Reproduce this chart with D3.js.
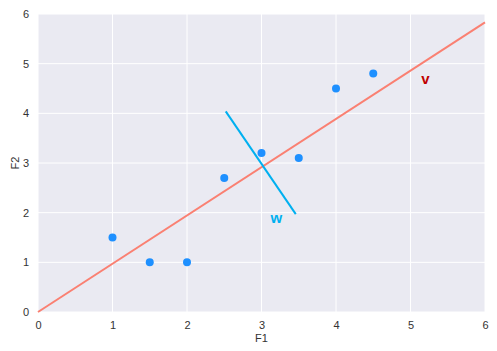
<!DOCTYPE html>
<html>
<head>
<meta charset="utf-8">
<script src="https://d3js.org/d3.v7.min.js"></script>
<style>
  body { margin: 0; background: white; }
  text { font-family: "Liberation Sans", Arial, sans-serif; }
</style>
</head>
<body>
<script>
// data points
const xs = [1, 1.5, 2, 2.5, 3, 3.5, 4, 4.5];
const ys = [1.5, 1, 1, 2.7, 3.2, 3.1, 4.5, 4.8];
// line v (through origin) and segment w
const vLine = [[0, 0], [6, 5.83]];
const wLine = [[2.52, 4.04], [3.46, 1.97]];
const vLabel = {x: 5.2, y: 4.6, t: "v"};
const wLabel = {x: 3.2, y: 1.8, t: "w"};
const ticks = [0, 1, 2, 3, 4, 5, 6];

const W = 497, H = 351;
const m = {l: 38, r: 12, t: 14, b: 39};

const svg = d3.select("body").append("svg").attr("width", W).attr("height", H);

const x = d3.scaleLinear().domain([0, 6]).range([m.l, W - m.r]);
const y = d3.scaleLinear().domain([0, 6]).range([H - m.b, m.t]);

svg.append("rect")
  .attr("x", x(0)).attr("y", y(6))
  .attr("width", x(6) - x(0)).attr("height", y(0) - y(6))
  .attr("fill", "#eaeaf2");

// grid
svg.selectAll(".gx").data(ticks).enter().append("line")
  .attr("x1", d => x(d)).attr("x2", d => x(d))
  .attr("y1", y(0)).attr("y2", y(6))
  .attr("stroke", "white").attr("stroke-width", 1);
svg.selectAll(".gy").data(ticks).enter().append("line")
  .attr("y1", d => y(d)).attr("y2", d => y(d))
  .attr("x1", x(0)).attr("x2", x(6))
  .attr("stroke", "white").attr("stroke-width", 1);

// tick labels
const xa = svg.append("g").attr("transform", `translate(0,${y(0)})`)
  .call(d3.axisBottom(x).tickValues(ticks).tickFormat(d3.format("d")).tickSize(0).tickPadding(9));
const ya = svg.append("g").attr("transform", `translate(${x(0)},0)`)
  .call(d3.axisLeft(y).tickValues(ticks).tickFormat(d3.format("d")).tickSize(0).tickPadding(9));
[xa, ya].forEach(a => {
  a.select(".domain").remove();
  a.selectAll("text").attr("fill", "#333").style("font-size", "11px")
    .style("font-family", "Liberation Sans, Arial, sans-serif");
});

svg.append("text").attr("x", (x(0) + x(6)) / 2).attr("y", 342)
  .attr("text-anchor", "middle").attr("fill", "#333")
  .style("font-size", "11px")
  .text("F1");
svg.append("text").attr("transform", `translate(19,${(y(0) + y(6)) / 2}) rotate(-90)`)
  .attr("text-anchor", "middle").attr("fill", "#333")
  .style("font-size", "11px")
  .text("F2");

const line = d3.line().x(d => x(d[0])).y(d => y(d[1]));

svg.append("path").datum(vLine).attr("d", line)
  .attr("stroke", "#fa8072").attr("stroke-width", 2).attr("fill", "none");
svg.append("path").datum(wLine).attr("d", line)
  .attr("stroke", "#00b0f0").attr("stroke-width", 2).attr("fill", "none");

svg.selectAll(".pt").data(xs).enter().append("circle")
  .attr("cx", d => x(d)).attr("cy", (d, i) => y(ys[i]))
  .attr("r", 4).attr("fill", "#1e90ff");

svg.append("text").attr("x", x(vLabel.x)).attr("y", y(vLabel.y))
  .attr("text-anchor", "middle").attr("fill", "#c00000")
  .style("font-size", "15px").style("font-weight", "bold").text(vLabel.t);
svg.append("text").attr("x", x(wLabel.x)).attr("y", y(wLabel.y))
  .attr("text-anchor", "middle").attr("fill", "#00b0f0")
  .style("font-size", "15px").style("font-weight", "bold").text(wLabel.t);
</script>
</body>
</html>
